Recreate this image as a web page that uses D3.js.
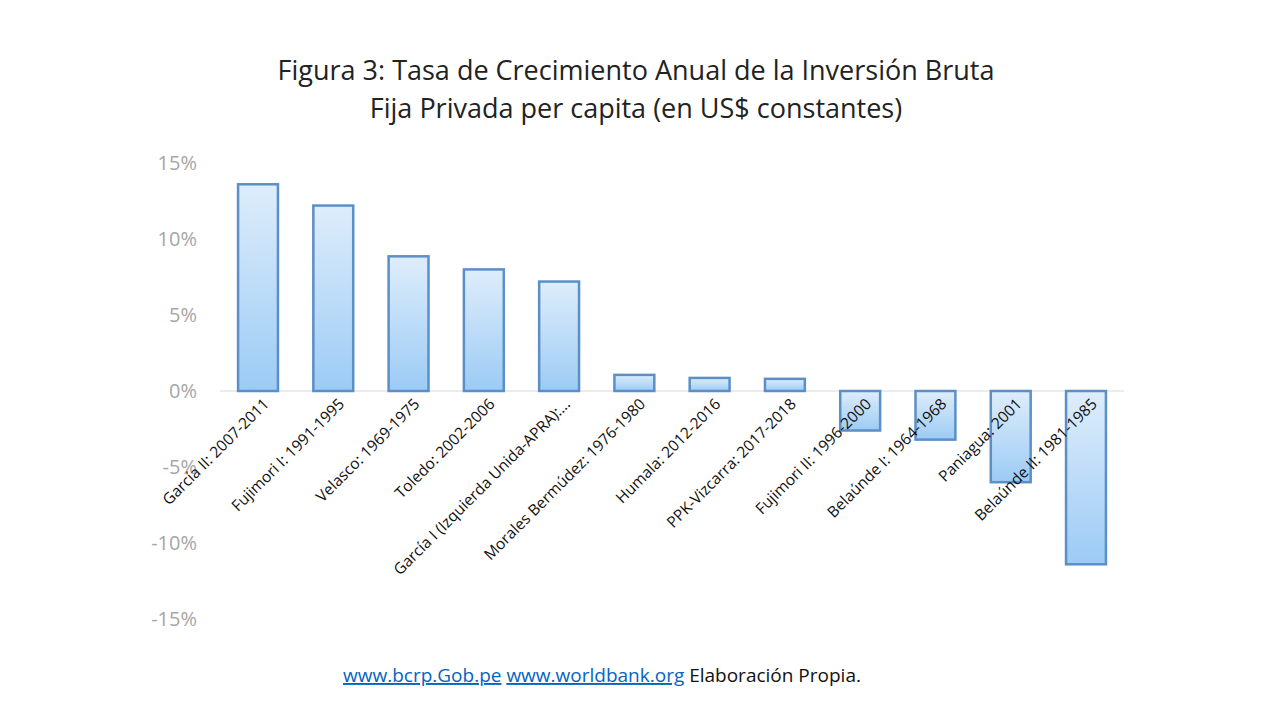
<!DOCTYPE html>
<html>
<head>
<meta charset="utf-8">
<script src="https://cdn.jsdelivr.net/npm/d3@7"></script>
<style>
  body { margin: 0; background: #fff; }
  svg { font-family: "Open Sans", "Noto Sans", sans-serif; }
</style>
</head>
<body>
<svg id="chart" width="1280" height="720"></svg>
<script>
// Chart data.
const periods = [
  'García II: 2007-2011', 'Fujimori I: 1991-1995', 'Velasco: 1969-1975',
  'Toledo: 2002-2006', 'García I (Izquierda Unida-APRA):...',
  'Morales Bermúdez: 1976-1980', 'Humala: 2012-2016', 'PPK-Vizcarra: 2017-2018',
  'Fujimori II: 1996-2000', 'Belaúnde I: 1964-1968', 'Paniagua: 2001',
  'Belaúnde II: 1981-1985',
];
const growth = [13.6, 12.2, 8.86, 8.0, 7.2, 1.06, 0.86, 0.8, -2.6, -3.2, -6.0, -11.4];
const yTicks = [-15, -10, -5, 0, 5, 10, 15];

const svg = d3.select('#chart');

const x = d3.scaleBand().domain(periods).range([220, 1124]).paddingInner(0.47).paddingOuter(0.24);
const y = d3.scaleLinear().domain([-15, 15]).range([619, 163]);

// Bar gradient.
const grad = svg.append('defs').append('linearGradient')
  .attr('id', 'barFill').attr('x1', 0).attr('y1', 0).attr('x2', 0).attr('y2', 1);
grad.append('stop').attr('offset', '0%').attr('stop-color', '#deedfb');
grad.append('stop').attr('offset', '100%').attr('stop-color', '#9ccbf5');

// Title.
svg.append('text')
  .attr('text-anchor', 'middle').attr('font-size', 27).attr('fill', '#222')
  .selectAll('tspan')
  .data(['Figura 3: Tasa de Crecimiento  Anual de la Inversión  Bruta',
         'Fija Privada per capita (en US$ constantes)'])
  .join('tspan')
    .attr('x', 636).attr('y', (d, i) => 80 + i * 38)
    .text(d => d);

// Y axis labels.
svg.append('g')
  .selectAll('text')
  .data(yTicks)
  .join('text')
    .attr('x', 197).attr('y', d => y(d) + 7)
    .attr('text-anchor', 'end').attr('font-size', 20).attr('fill', '#a6a6a6')
    .text(d => `${d}%`);

// Zero line.
svg.append('line')
  .attr('x1', 220).attr('x2', 1124).attr('y1', y(0)).attr('y2', y(0))
  .attr('stroke', '#d9d9d9').attr('stroke-width', 1.2);

// Bars.
svg.append('g')
  .selectAll('rect')
  .data(periods)
  .join('rect')
    .attr('x', d => x(d))
    .attr('width', x.bandwidth())
    .attr('y', (d, i) => y(Math.max(0, growth[i])))
    .attr('height', (d, i) => Math.abs(y(growth[i]) - y(0)))
    .attr('fill', 'url(#barFill)')
    .attr('stroke', '#5b8fc7').attr('stroke-width', 2.5);

// Category labels, rotated.
svg.append('g')
  .selectAll('text')
  .data(periods)
  .join('text')
    .attr('transform', d => `translate(${x(d) + x.bandwidth() / 2 + 12},${y(0) + 14}) rotate(-45)`)
    .attr('text-anchor', 'end').attr('font-size', 15.5).attr('fill', '#111')
    .text(d => d);

// Sources.
const foot = svg.append('text')
  .attr('x', 602).attr('y', 682).attr('text-anchor', 'middle').attr('font-size', 19);
foot.append('tspan').attr('fill', '#0563c1').attr('text-decoration', 'underline').text('www.bcrp.Gob.pe');
foot.append('tspan').text(' ');
foot.append('tspan').attr('fill', '#0563c1').attr('text-decoration', 'underline').text('www.worldbank.org');
foot.append('tspan').attr('fill', '#111').text(' Elaboración Propia.');
</script>
</body>
</html>
